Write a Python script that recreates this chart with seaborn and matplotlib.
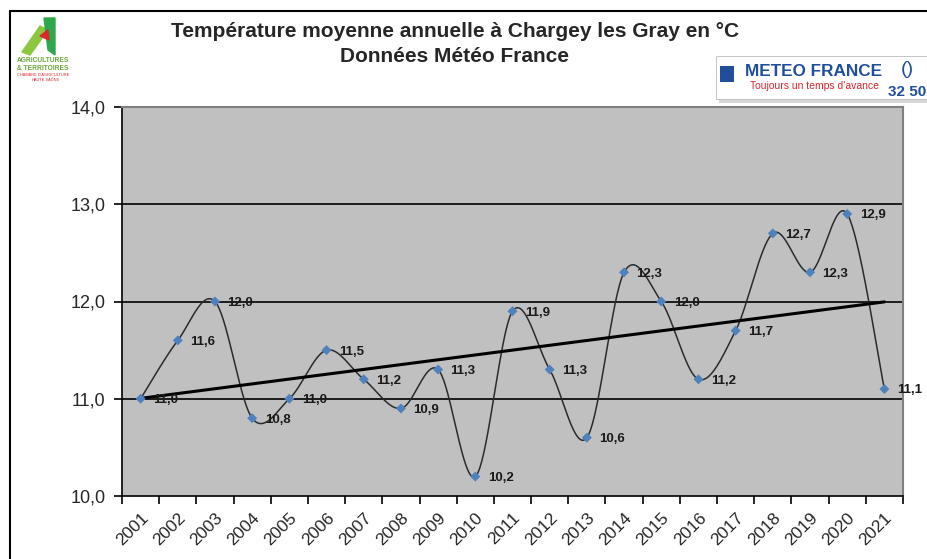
import numpy as np
import pandas as pd
import matplotlib
matplotlib.use("Agg")
import matplotlib.pyplot as plt
import seaborn as sns
from matplotlib.patches import Rectangle, Polygon

# --- données ---
annees = [str(a) for a in range(2001, 2022)]
temperatures = [11.0, 11.6, 12.0, 10.8, 11.0, 11.5, 11.2, 10.9, 11.3, 10.2,
                11.9, 11.3, 10.6, 12.3, 12.0, 11.2, 11.7, 12.7, 12.3, 12.9, 11.1]
y_ticks = [10.0, 11.0, 12.0, 13.0, 14.0]

titre = "Température moyenne annuelle à Chargey les Gray en °C\nDonnées Météo France"

df = pd.DataFrame({"annee": annees, "temp": temperatures})
df["x"] = np.arange(len(df))

sns.set_style("white")
plt.rcParams["font.family"] = ["Liberation Sans", "DejaVu Sans"]

fig = plt.figure(figsize=(9.28, 5.59), dpi=100)
ax = fig.add_axes([122 / 928, 1 - 496 / 559, 781 / 928, 389 / 559])
ax.set_facecolor("#C0C0C0")


# courbe lissée (type Excel : Bézier / Catmull-Rom)
def courbe_lissee(x, y, n=40):
    p = np.column_stack([x, y]).astype(float)
    p_ext = np.vstack([p[0], p, p[-1]])
    seg = []
    for i in range(len(p) - 1):
        p0, p1, p2, p3 = p_ext[i], p_ext[i + 1], p_ext[i + 2], p_ext[i + 3]
        c1 = p1 + (p2 - p0) / 6
        c2 = p2 - (p3 - p1) / 6
        t = np.linspace(0, 1, n)[:, None]
        b = ((1 - t) ** 3) * p1 + 3 * ((1 - t) ** 2) * t * c1 + 3 * (1 - t) * t ** 2 * c2 + t ** 3 * p2
        seg.append(b if i == 0 else b[1:])
    return np.vstack(seg)


courbe = courbe_lissee(df["x"], df["temp"])
ax.plot(courbe[:, 0], courbe[:, 1], color="#2b2b2b", lw=1.1, zorder=3)

# droite de tendance
sns.regplot(data=df, x="x", y="temp", scatter=False, ci=None, truncate=True,
            line_kws={"color": "black", "lw": 2.2, "zorder": 4}, ax=ax)

sns.scatterplot(data=df, x="x", y="temp", marker="D", s=26, color="#4F81BD",
                edgecolor="none", zorder=5, ax=ax)

for xi, v in zip(df["x"], df["temp"]):
    ax.annotate(f"{v:.1f}".replace(".", ","), (xi, v), xytext=(9, -1),
                textcoords="offset points", ha="left", va="center",
                fontsize=9.5, fontweight="bold", color="#1a1a1a", zorder=6)

# grille
for g in [11, 12, 13]:
    ax.axhline(g, color="black", lw=1.2, zorder=2)

ax.set_xlim(-0.5, len(annees) - 0.5)
ax.set_ylim(10, 14)
ax.set_yticks(y_ticks)
ax.set_yticklabels([f"{v:.1f}".replace(".", ",") for v in y_ticks], fontsize=13)
ax.set_xticks(df["x"])
ax.set_xticklabels(annees, rotation=45, ha="right", rotation_mode="anchor", fontsize=12.5)
ax.set_xticks(np.arange(-0.5, len(annees)), minor=True)
ax.tick_params(axis="x", which="major", length=0, pad=10)
ax.tick_params(axis="x", which="minor", length=6, width=1.2, color="black", direction="out", bottom=True)
ax.tick_params(axis="y", length=6, width=1.2, color="black", direction="out", left=True, pad=6)
ax.set_xlabel("")
ax.set_ylabel("")

for s in ["left", "bottom"]:
    ax.spines[s].set_color("black")
    ax.spines[s].set_linewidth(1.2)
for s in ["top", "right"]:
    ax.spines[s].set_color("#808080")
    ax.spines[s].set_linewidth(1.5)

# titre
fig.text(455 / 928, 1 - 44 / 559, titre, ha="center", va="center", fontsize=15,
         fontweight="bold", linespacing=1.4)

# cadre
fig.add_artist(plt.Line2D([10 / 928, 1], [1 - 11 / 559, 1 - 11 / 559], color="black", lw=1.5))
fig.add_artist(plt.Line2D([10 / 928, 10 / 928], [0, 1 - 11 / 559], color="black", lw=1.5))

# logo chambre d'agriculture (approximation)
fig.add_artist(Polygon([[22 / 928, 1 - 52 / 559], [40 / 928, 1 - 26 / 559], [48 / 928, 1 - 30 / 559],
                        [30 / 928, 1 - 55 / 559]], closed=True, color="#8DC63F", transform=fig.transFigure))
fig.add_artist(Polygon([[44 / 928, 1 - 18 / 559], [55 / 928, 1 - 18 / 559], [55 / 928, 1 - 55 / 559],
                        [48 / 928, 1 - 50 / 559]], closed=True, color="#2EA84A", transform=fig.transFigure))
fig.add_artist(Polygon([[40 / 928, 1 - 36 / 559], [48 / 928, 1 - 30 / 559], [49 / 928, 1 - 40 / 559]],
                       closed=True, color="#D9262C", transform=fig.transFigure))
fig.text(17 / 928, 1 - 61 / 559, "AGRICULTURES", fontsize=4.8, color="#6BA539", fontweight="bold", va="center")
fig.text(17 / 928, 1 - 68 / 559, "& TERRITOIRES", fontsize=4.8, color="#6BA539", fontweight="bold", va="center")
fig.text(17 / 928, 1 - 75 / 559, "CHAMBRE D'AGRICULTURE", fontsize=2.8, color="#D9262C", va="center")
fig.text(32 / 928, 1 - 80 / 559, "HAUTE-SAÔNE", fontsize=2.8, color="#D9262C", va="center")

# logo Météo France (approximation)
fig.add_artist(Rectangle((719 / 928, 1 - 103 / 559), 209 / 928, 46 / 559, transform=fig.transFigure,
                         facecolor="#d8d8d8", edgecolor="none", zorder=0))
fig.add_artist(Rectangle((716 / 928, 1 - 99 / 559), 212 / 928, 43 / 559, transform=fig.transFigure,
                         facecolor="white", edgecolor="#bbbbbb", lw=0.6, zorder=1))
fig.add_artist(Rectangle((720 / 928, 1 - 82 / 559), 14 / 928, 16 / 559, transform=fig.transFigure,
                         facecolor="#1F4E9A", edgecolor="none", zorder=2))
fig.text(745 / 928, 1 - 71 / 559, "METEO FRANCE", fontsize=12.3, fontweight="bold",
         color="#1F4E9A", va="center", zorder=3)
fig.text(750 / 928, 1 - 86 / 559, "Toujours un temps d'avance", fontsize=7.5,
         color="#D9262C", va="center", zorder=3)
fig.text(888 / 928, 1 - 92 / 559, "32 50", fontsize=11, fontweight="bold",
         color="#1F4E9A", va="center", zorder=3)
fig.text(907 / 928, 1 - 69 / 559, "()", fontsize=14, color="#1F4E9A", ha="center", va="center", zorder=3)

fig.savefig("out.png", dpi=100)
